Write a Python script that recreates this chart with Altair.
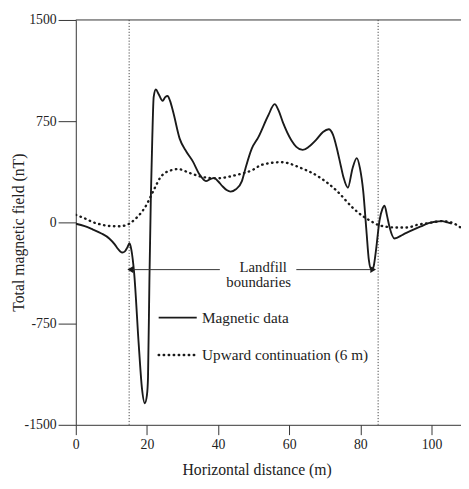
import altair as alt
import pandas as pd

# Magnetic data (solid)
mag_x = [0, 2.5, 4.8, 7.2, 9.4, 11.0, 11.7, 12.5, 13.1, 13.8, 14.5, 15.1, 15.6, 16.4, 17.7,
         18.6, 19.4, 20.0, 20.3, 20.7, 21.1, 21.5, 21.9, 22.5, 23.3, 24.4, 25.2, 25.8, 26.5,
         27.4, 29.2, 31.1, 32.9, 34.8, 36.6, 37.8, 38.9, 40.0, 41.2, 42.4, 43.5, 45.0, 46.7,
         47.7, 49.5, 51.3, 54.1, 55.9, 57.0, 58.2, 60.6, 62.0, 63.8, 65.5, 67.5, 69.5, 71.1,
         72.3, 73.4, 74.5, 75.3, 76.5, 77.8, 79.0, 79.9, 80.8, 81.7, 82.4, 83.1, 83.7, 84.3,
         85.4, 86.2, 86.8, 87.5, 88.2, 89.6, 92.0, 94.6, 97.0, 99.2, 101.0, 102.9, 104.5, 105.7]
mag_y = [-10, -28, -53, -82, -119, -165, -192, -215, -223, -215, -185, -155, -200, -374, -908,
         -1230, -1340, -1280, -1151, -422, 184, 620, 930, 985, 950, 901, 930, 937, 900,
         816, 621, 524, 452, 355, 306, 320, 330, 305, 269, 240, 228, 245, 306,
         400, 548, 630, 792, 876, 830, 743, 609, 560, 537, 560, 609, 670, 690,
         650, 548, 420, 330, 257, 400, 476, 400, 233, -58, -280, -350, -330, -228,
         15, 100, 124, 50, -34, -119, -90, -58, -30, -5, 5, 9, 0, -10]

# Upward continuation (6 m) (dotted)
up_x = [0, 2.5, 4.8, 7.0, 9.4, 12.2, 15.0, 16.5, 17.7, 20.0, 20.9, 22.3, 23.7, 26.5, 28.8,
        32.0, 34.8, 39.4, 44.9, 49.9, 52.3, 57.8, 63.3, 68.8, 73.4, 78.0, 80.5, 82.6, 85.4,
        90.0, 93.0, 96.5, 99.2, 102.9, 105.5, 108.3]
up_y = [56, 30, 2, -15, -27, -29, -10, 20, 51, 136, 184, 260, 330, 384, 395,
        366, 342, 326, 350, 391, 427, 446, 403, 330, 233, 105, 50, 15, -22,
        -38, -38, -15, -5, 9, 0, -40]

x_ticks = [0, 20, 40, 60, 80, 100]
y_ticks = [-1500, -750, 0, 750, 1500]
boundaries = [15, 85]

# annotation: Landfill boundaries arrow
arrow_x = [15.3, 62.0]
arrow_x2 = [40.5, 83.6]
arrow_y = [-350, -350]
label_lines = ["Landfill", "boundaries"]
label_x = [52.7, 51.4]
label_y = [-328, -444]

legend_names = ["Magnetic data", "Upward continuation (6 m)"]
legend_y = [-706, -983]
legend_x0, legend_x1, legend_tx = 23.3, 34.0, 35.5

FONT = "Liberation Serif"
INK = "#1a1a1a"

X = alt.X("x:Q", scale=alt.Scale(domain=[0, 108.3], nice=False, zero=False),
          axis=alt.Axis(values=x_ticks, title="Horizontal distance (m)", tickSize=10,
                        labelPadding=3, labelFlush=False, titleX=184, titleY=51,
                        titleBaseline="alphabetic", titleAnchor="start", titleAlign="center"))
Y = alt.Y("y:Q", scale=alt.Scale(domain=[-1500, 1500], nice=False, zero=False),
          axis=alt.Axis(values=y_ticks, title="Total magnetic field (nT)", tickSize=18,
                        labelPadding=2, labelExpr="datum.value + ''",
                        titleX=-58, titleY=216, titleBaseline="middle",
                        titleAlign="center"))

mag_df = pd.DataFrame({"x": mag_x, "y": mag_y})
up_df = pd.DataFrame({"x": up_x, "y": up_y})

top = alt.Chart(pd.DataFrame({"y": [1500]})).mark_rule(color="#333", strokeWidth=1).encode(y=Y)
vlines = alt.Chart(pd.DataFrame({"x": boundaries})).mark_rule(
    color="#444", strokeWidth=1, strokeDash=[1.2, 1.8]).encode(x=X)
up_line = alt.Chart(up_df).mark_line(
    color=INK, strokeWidth=2.4, strokeDash=[0.5, 4.6], strokeCap="round",
    interpolate="monotone", clip=True).encode(x=X, y=Y, order="x:Q")
mag_line = alt.Chart(mag_df).mark_line(
    color=INK, strokeWidth=1.9, interpolate="monotone", clip=True).encode(x=X, y=Y, order="x:Q")

arrow_df = pd.DataFrame({"x": arrow_x, "x2": arrow_x2, "y": arrow_y})
arrows = alt.Chart(arrow_df).mark_rule(color="#333", strokeWidth=1).encode(x=X, x2="x2:Q", y=Y)
heads_df = pd.DataFrame({"x": [arrow_x[0], arrow_x2[1]], "y": arrow_y,
                         "s": ["triangle-left", "triangle-right"]})
heads = alt.Chart(heads_df).mark_point(filled=True, size=45, color=INK, opacity=1).encode(
    x=X, y=Y, shape=alt.Shape("s:N", scale=None, legend=None))

labels_df = pd.DataFrame({"x": label_x, "y": label_y, "t": label_lines})
labels = alt.Chart(labels_df).mark_text(font=FONT, fontSize=15, color="#222",
                                        align="center", baseline="middle").encode(
    x=X, y=Y, text="t:N")

leg_line_df = pd.DataFrame({"x": [legend_x0, legend_x1], "y": [legend_y[0]] * 2})
leg_dot_df = pd.DataFrame({"x": [legend_x0, legend_x1], "y": [legend_y[1]] * 2})
leg_line = alt.Chart(leg_line_df).mark_line(color=INK, strokeWidth=1.9).encode(x=X, y=Y)
leg_dot = alt.Chart(leg_dot_df).mark_line(color=INK, strokeWidth=2.4, strokeDash=[0.5, 4.6],
                                          strokeCap="round").encode(x=X, y=Y)
leg_text_df = pd.DataFrame({"x": [legend_tx] * 2, "y": legend_y, "t": legend_names})
leg_text = alt.Chart(leg_text_df).mark_text(font=FONT, fontSize=15.5, color="#222",
                                            align="left", baseline="middle").encode(
    x=X, y=Y, text="t:N")

chart = alt.layer(top, vlines, up_line, mag_line, arrows, heads, labels,
                  leg_line, leg_dot, leg_text).properties(
    width=392, height=412,
    autosize=alt.AutoSizeParams(type="none"),
    padding={"left": 69, "top": 8, "right": 0, "bottom": 53},
).configure_view(stroke=None).configure_axis(
    grid=False, domainColor="#333", tickColor="#333", labelColor="#222",
    labelFont=FONT, labelFontSize=14, titleFont=FONT, titleFontSize=16,
    titleFontWeight="normal", titleColor="#222", domainWidth=1, tickWidth=1,
)

chart.save("out.html", embed_options={"renderer": "svg", "actions": False})
